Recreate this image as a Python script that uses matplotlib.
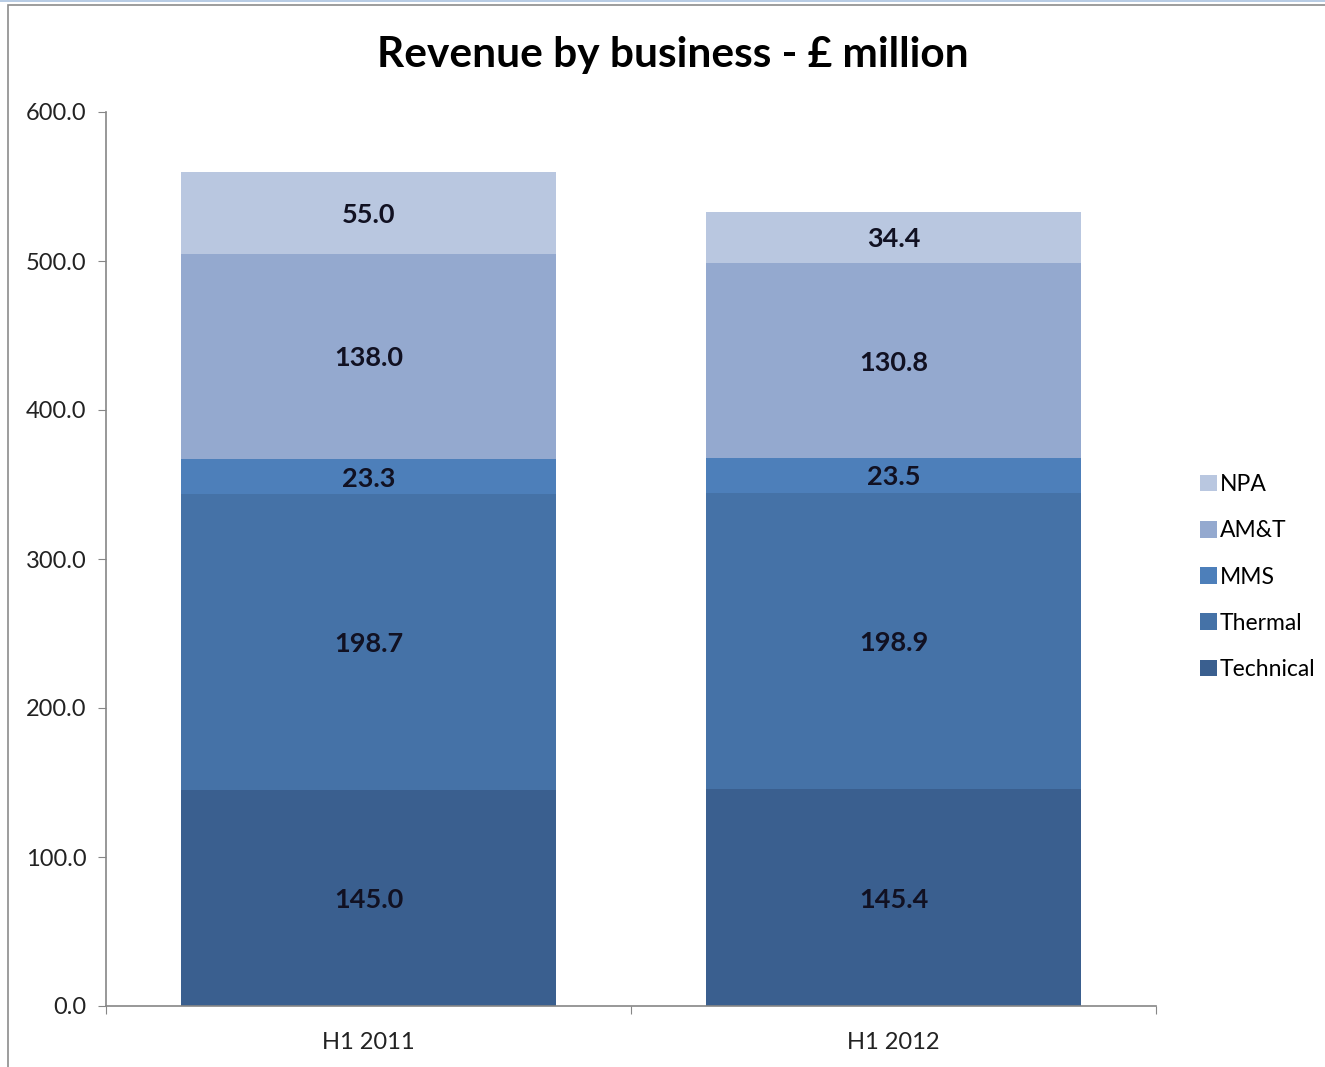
import numpy as np
import matplotlib
matplotlib.use('Agg')
import matplotlib.pyplot as plt
from matplotlib.patches import Rectangle

# revenue by business, £ million
periods = ['H1 2011', 'H1 2012']
segments = ['Technical', 'Thermal', 'MMS', 'AM&T', 'NPA']
technical = [145.0, 145.4]
thermal = [198.7, 198.9]
mms = [23.3, 23.5]
amt = [138.0, 130.8]
npa = [55.0, 34.4]
yticks = [0, 100, 200, 300, 400, 500, 600]

series = [technical, thermal, mms, amt, npa]
colours = ['#3a5f8f', '#4572a7', '#4d7fba', '#94a9cf', '#b9c7e0']

plt.rcParams['font.family'] = ['Lato', 'DejaVu Sans']

fig = plt.figure(figsize=(13.25, 10.67), dpi=100)
ax = fig.add_axes([106/1325, 1 - 1006/1067, 1050/1325, 894/1067])

# frame round the chart
fig.patches.append(Rectangle((8/1325, -0.1), 1.2, 1 - 5/1067 + 0.1, transform=fig.transFigure,
                             fill=False, edgecolor='#8c8c8c', linewidth=1.2))
fig.patches.append(Rectangle((0, 1 - 2/1067), 1, 2/1067, transform=fig.transFigure,
                             facecolor='#b8cce4', edgecolor='none'))

x = np.arange(len(periods))
bottom = np.zeros(len(periods))
for name, vals, col in zip(segments, series, colours):
    vals = np.array(vals)
    ax.bar(x, vals, width=0.714, bottom=bottom, color=col, label=name, linewidth=0)
    for xi, b, v in zip(x, bottom, vals):
        ax.text(xi, b + v / 2, '%.1f' % v, ha='center', va='center_baseline',
                fontsize=19.5, fontweight='bold', color='#111122')
    bottom += vals

ax.set_xlim(-0.5, 1.5)
ax.set_ylim(0, 600)
ax.set_yticks(yticks)
ax.set_yticklabels(['%.1f' % t for t in yticks])

# tick marks sit between the categories, labels under the bars
ax.set_xticks([-0.5, 0.5, 1.5])
ax.set_xticklabels([])
ax.set_xticks(x, minor=True)
ax.set_xticklabels(periods, minor=True)
ax.tick_params(axis='x', which='minor', length=0, pad=19, labelsize=17, labelcolor='#222222')
ax.tick_params(axis='x', which='major', length=6, color='#868686')
ax.tick_params(axis='y', length=6, color='#868686', pad=8, labelsize=17, labelcolor='#222222')

for s in ['top', 'right']:
    ax.spines[s].set_visible(False)
for s in ['left', 'bottom']:
    ax.spines[s].set_color('#868686')
    ax.spines[s].set_linewidth(1.2)

fig.text(0.508, 1 - 55/1067, 'Revenue by business - £ million', ha='center', va='center',
         fontsize=30.5, fontweight='bold', color='black')

handles, labels = ax.get_legend_handles_labels()
fig.legend(handles[::-1], labels[::-1], loc='center left', bbox_to_anchor=(1191/1325, 1 - 577/1067),
           frameon=False, fontsize=16.5, handlelength=0.75, handleheight=0.75,
           handletextpad=0.12, labelspacing=1.1, borderaxespad=0)

fig.savefig('out.png', dpi=100, facecolor='white')
